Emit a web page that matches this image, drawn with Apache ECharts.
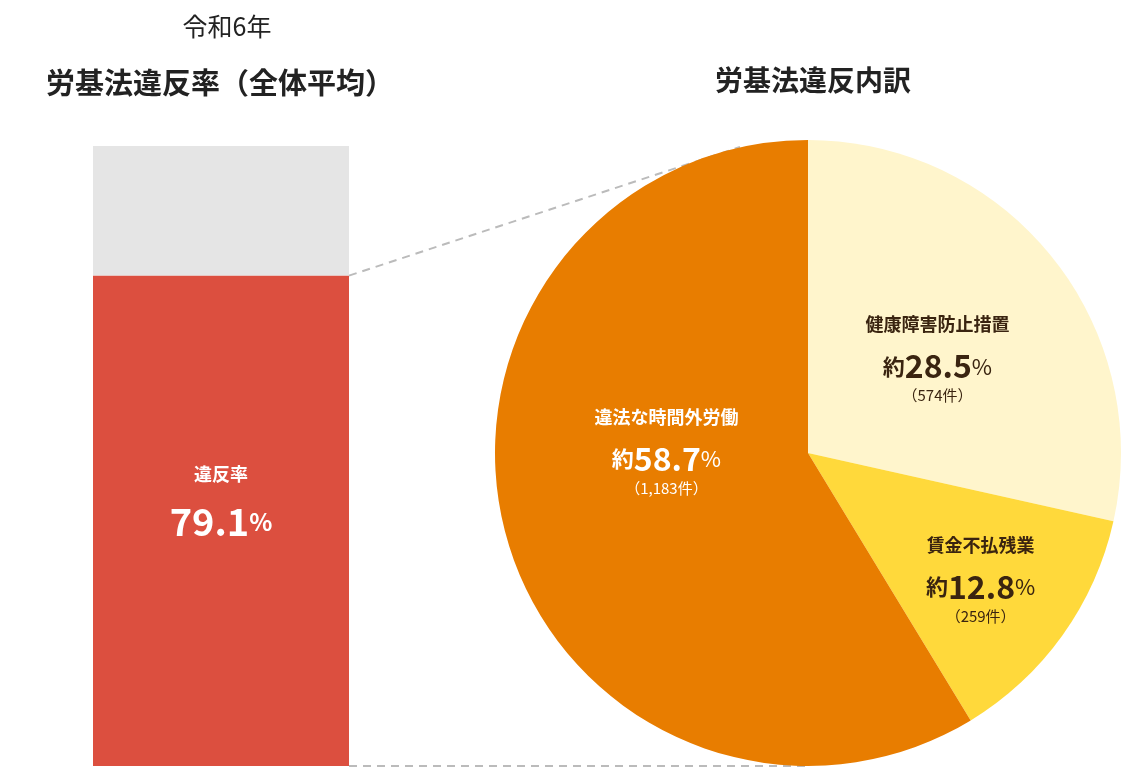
<!DOCTYPE html>
<html><head><meta charset="utf-8">
<script src="https://cdn.jsdelivr.net/npm/echarts@6/dist/echarts.min.js"></script>
<style>html,body{margin:0;background:#fff}#c{width:1122px;height:768px}</style>
</head><body><div id="c"></div>
<script>
const barName = '違反率';
const barValue = 79.1;
const barRest = 20.9;
const pieNames = ['健康障害防止措置', '賃金不払残業', '違法な時間外労働'];
const pieValues = [28.5, 12.8, 58.7];
const pieCounts = ['574件', '259件', '1,183件'];
const pieColors = ['#FFF5CC', '#FFD93B', '#E87D00'];
const pieOffsets = [[5, 0], [43, 28], [12, -50]];

const font = '"Noto Sans CJK JP", sans-serif';
const chart = echarts.init(document.getElementById('c'));

const pieRich = (color) => ({
    n: { fontSize: 18, fontWeight: 'bold', color, lineHeight: 52, fontFamily: font },
    a: { fontSize: 22, fontWeight: 'bold', color, fontFamily: font },
    v: { fontSize: 32, fontWeight: 'bold', color, fontFamily: font },
    p: { fontSize: 22, color, fontFamily: font },
    c: { fontSize: 15, color, lineHeight: 26, fontFamily: font }
});

chart.setOption({
    animation: false,
    textStyle: { fontFamily: font },
    title: [
        { text: '令和6年', left: 222, top: 9, textAlign: 'center',
          textStyle: { fontSize: 25, fontWeight: 'normal', color: '#222' } },
        { text: '労基法違反率（全体平均）', left: 215, top: 63, textAlign: 'center',
          textStyle: { fontSize: 29, fontWeight: 'bold', color: '#222' } },
        { text: '労基法違反内訳', left: 808, top: 61, textAlign: 'center',
          textStyle: { fontSize: 28, fontWeight: 'bold', color: '#222' } }
    ],
    grid: { left: 93, width: 256, top: 146, bottom: 2 },
    xAxis: { type: 'category', data: [barName], show: false },
    yAxis: { type: 'value', min: 0, max: 100, show: false },
    series: [
        {
            type: 'bar', stack: 'a', data: [barValue], barWidth: '100%',
            itemStyle: { color: '#DC4F3F' },
            label: {
                show: true, position: 'inside', offset: [0, -28],
                formatter: () => `{n|${barName}}\n{v|${barValue}}{p|%}`,
                rich: {
                    n: { fontSize: 18, fontWeight: 'bold', color: '#fff', lineHeight: 58, fontFamily: font },
                    v: { fontSize: 38, fontWeight: 'bold', color: '#fff', fontFamily: font },
                    p: { fontSize: 24, fontWeight: 'bold', color: '#fff', fontFamily: font }
                }
            }
        },
        { type: 'bar', stack: 'a', data: [barRest], itemStyle: { color: '#E5E5E5' } },
        {
            type: 'pie', center: [808, 453], radius: 313, startAngle: 90, clockwise: true,
            data: pieNames.map((n, i) => ({
                name: n, value: pieValues[i],
                itemStyle: { color: pieColors[i] },
                label: { offset: pieOffsets[i], rich: pieRich(i === 2 ? '#fff' : '#3a2410') }
            })),
            label: {
                show: true, position: 'inside',
                formatter: (p) => `{n|${p.name}}\n{a|約}{v|${p.value}}{p|%}\n{c|（${pieCounts[p.dataIndex]}）}`
            },
            emphasis: { disabled: true }
        }
    ]
});

const barTop = chart.convertToPixel({ gridIndex: 0 }, [0, barValue]);
const barBottom = chart.convertToPixel({ gridIndex: 0 }, [0, 0]);
const right = 349;
chart.setOption({
    graphic: [
        { type: 'line', shape: { x1: right, y1: barTop[1], x2: 740, y2: 147 },
          style: { stroke: '#bbb', lineWidth: 2, lineDash: [8, 6] }, z: -1 },
        { type: 'line', shape: { x1: right, y1: barBottom[1], x2: 808, y2: 453 + 313 },
          style: { stroke: '#bbb', lineWidth: 2, lineDash: [8, 6] }, z: -1 }
    ]
});
</script></body></html>
